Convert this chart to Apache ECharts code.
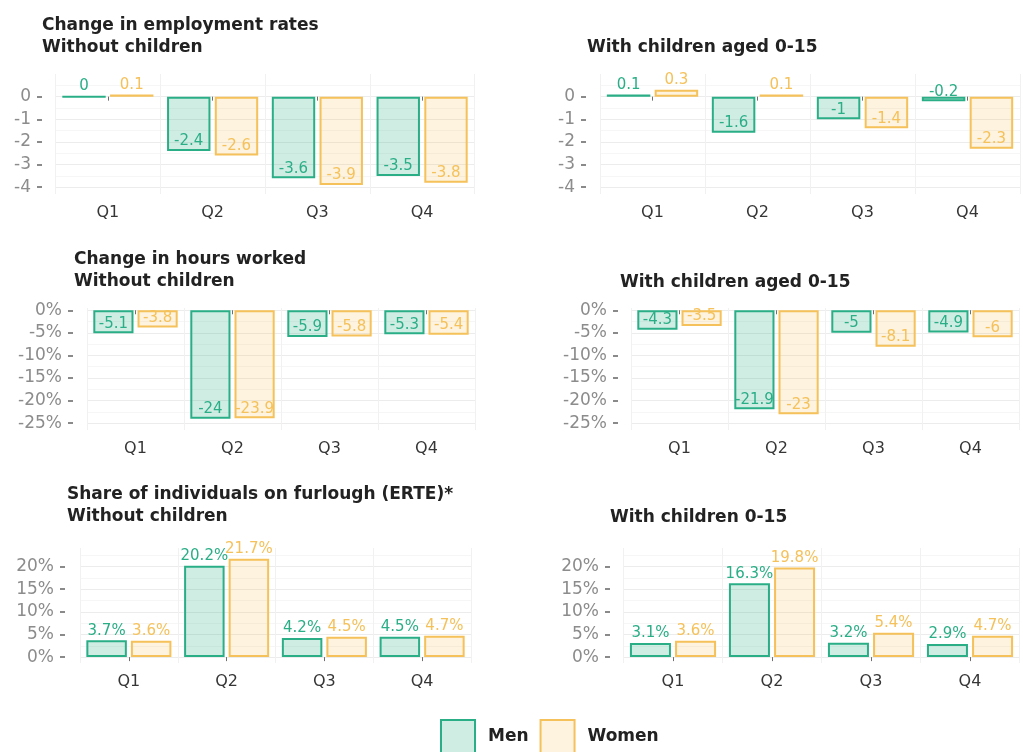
<!DOCTYPE html>
<html>
<head>
<meta charset="utf-8">
<style>
  html, body { margin: 0; padding: 0; background: #ffffff; }
  #chart { width: 1023px; height: 752px; }
</style>
<script src="https://cdn.jsdelivr.net/npm/echarts@6/dist/echarts.min.js"></script>
</head>
<body>
<div id="chart"></div>
<script>
// Quarters shown on every panel
const quarters = ['Q1', 'Q2', 'Q3', 'Q4'];

// Change in employment rates (percentage points)
const empNoKidsMen = [0, -2.4, -3.6, -3.5];
const empNoKidsWomen = [0.1, -2.6, -3.9, -3.8];
const empKidsMen = [0.1, -1.6, -1, -0.2];
const empKidsWomen = [0.3, 0.1, -1.4, -2.3];

// Change in hours worked (%)
const hrsNoKidsMen = [-5.1, -24, -5.9, -5.3];
const hrsNoKidsWomen = [-3.8, -23.9, -5.8, -5.4];
const hrsKidsMen = [-4.3, -21.9, -5, -4.9];
const hrsKidsWomen = [-3.5, -23, -8.1, -6];

// Share of individuals on furlough, ERTE (%)
const ertNoKidsMen = [3.7, 20.2, 4.2, 4.5];
const ertNoKidsWomen = [3.6, 21.7, 4.5, 4.7];
const ertKidsMen = [3.1, 16.3, 3.2, 2.9];
const ertKidsWomen = [3.6, 19.8, 5.4, 4.7];

// Tick values for the value axes
const empTicks = [-4, -3, -2, -1, 0];
const hrsTicks = [-25, -20, -15, -10, -5, 0];
const ertTicks = [0, 5, 10, 15, 20];

const FONT = 'DejaVu Sans';
const MEN_LINE = '#2aae86';
const MEN_FILL = 'rgba(42,174,134,0.22)';
const WOMEN_LINE = '#f5c15a';
const WOMEN_FILL = 'rgba(245,193,90,0.2)';

const panels = [
  { title: 'Change in employment rates\nWithout children', tx: 42, ty: 15,
    grid: { left: 55.5, top: 74, width: 419, height: 120 }, axisOffset: 13.5,
    min: -4.3, max: 1.0, ticks: empTicks, fmt: v => String(v), lbl: v => String(v),
    men: empNoKidsMen, women: empNoKidsWomen },
  { title: 'With children aged 0-15', tx: 587, ty: 37,
    grid: { left: 600, top: 74, width: 420, height: 120 }, axisOffset: 14,
    min: -4.3, max: 1.0, ticks: empTicks, fmt: v => String(v), lbl: v => String(v),
    men: empKidsMen, women: empKidsWomen },
  { title: 'Change in hours worked\nWithout children', tx: 74, ty: 249,
    grid: { left: 87, top: 308, width: 388, height: 122 }, axisOffset: 14,
    min: -26.5, max: 0.5, ticks: hrsTicks, fmt: v => v + '%', lbl: v => String(v),
    men: hrsNoKidsMen, women: hrsNoKidsWomen },
  { title: 'With children aged 0-15', tx: 620, ty: 272,
    grid: { left: 631, top: 308, width: 388, height: 122 }, axisOffset: 13,
    min: -26.5, max: 0.5, ticks: hrsTicks, fmt: v => v + '%', lbl: v => String(v),
    men: hrsKidsMen, women: hrsKidsWomen },
  { title: 'Share of individuals on furlough (ERTE)*\nWithout children', tx: 67, ty: 484,
    grid: { left: 80, top: 548, width: 391, height: 115 }, axisOffset: 15,
    min: -1.3, max: 24.1, ticks: ertTicks, fmt: v => v + '%', lbl: v => v + '%',
    men: ertNoKidsMen, women: ertNoKidsWomen },
  { title: 'With children 0-15', tx: 610, ty: 507,
    grid: { left: 623.5, top: 548, width: 396, height: 115 }, axisOffset: 13.5,
    min: -1.3, max: 24.1, ticks: ertTicks, fmt: v => v + '%', lbl: v => v + '%',
    men: ertKidsMen, women: ertKidsWomen }
];

function barData(values) {
  // Labels sit just above the end of each bar (inside for negative bars)
  return values.map(v => ({
    value: v,
    label: { position: v < 0 ? 'insideBottom' : 'top' }
  }));
}

const titles = [], grids = [], xAxes = [], yAxes = [], series = [];

panels.forEach((p, i) => {
  titles.push({
    text: p.title, left: p.tx, top: p.ty, padding: 0,
    textStyle: { fontFamily: FONT, fontSize: 17, fontWeight: 'bold', lineHeight: 22, color: '#222222' }
  });
  grids.push(Object.assign({ containLabel: false }, p.grid));
  xAxes.push({
    type: 'category', gridIndex: i, data: quarters,
    axisLine: { show: false },
    axisTick: { show: true, alignWithLabel: true, length: 4, lineStyle: { color: '#6f6f6f', width: 1 } },
    axisLabel: { margin: 11, fontFamily: FONT, fontSize: 16, color: '#363636' },
    splitLine: { show: true, lineStyle: { color: '#f1f1f1', width: 1 } }
  });
  yAxes.push({
    type: 'value', gridIndex: i, min: p.min, max: p.max, offset: p.axisOffset,
    axisLine: { show: false },
    axisTick: { show: true, length: 5, customValues: p.ticks, lineStyle: { color: '#8a8a8a', width: 2 } },
    axisLabel: { margin: 11, customValues: p.ticks, formatter: p.fmt, fontFamily: FONT, fontSize: 17, color: '#8c8c8c' },
    splitLine: { show: true, lineStyle: { color: '#ececec', width: 1 } },
    minorTick: { show: false, splitNumber: 2 },
    minorSplitLine: { show: true, lineStyle: { color: '#f6f6f6', width: 1 } }
  });
  [['Men', p.men, MEN_LINE, MEN_FILL], ['Women', p.women, WOMEN_LINE, WOMEN_FILL]].forEach(([name, vals, line, fill]) => {
    series.push({
      type: 'bar', name: name, xAxisIndex: i, yAxisIndex: i,
      data: barData(vals),
      barCategoryGap: '13%', barGap: '10%',
      itemStyle: { color: fill, borderColor: line, borderWidth: 2 },
      label: {
        show: true, distance: 2, fontFamily: FONT, fontSize: 15, color: line,
        formatter: params => p.lbl(params.value)
      },
      emphasis: { disabled: true },
      silent: true
    });
  });
});

const chart = echarts.init(document.getElementById('chart'), null, { renderer: 'canvas' });
chart.setOption({
  animation: false,
  backgroundColor: '#ffffff',
  title: titles,
  grid: grids,
  xAxis: xAxes,
  yAxis: yAxes,
  series: series,
  legend: {
    data: ['Men', 'Women'],
    left: 440, top: 719, padding: 0,
    icon: 'rect', itemWidth: 34, itemHeight: 34, itemGap: 11,
    selectedMode: false,
    textStyle: { fontFamily: FONT, fontSize: 17, fontWeight: 'bold', color: '#222222', padding: [4, 0, 0, 8] }
  }
});
</script>
</body>
</html>
